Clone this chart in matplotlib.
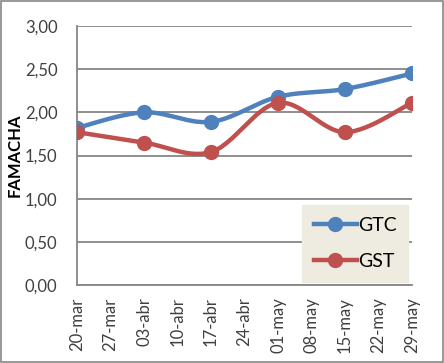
import numpy as np
import matplotlib
matplotlib.use("Agg")
import matplotlib.pyplot as plt

plt.rcParams['font.family'] = ['Lato', 'DejaVu Sans']

# days since 20-mar
tick_days = [0, 7, 14, 21, 28, 35, 42, 49, 56, 63, 70]
tick_labels = ["20-mar", "27-mar", "03-abr", "10-abr", "17-abr", "24-abr",
               "01-may", "08-may", "15-may", "22-may", "29-may"]
sample_days = [0, 14, 28, 42, 56, 70]
gtc = [1.82, 2.00, 1.89, 2.18, 2.27, 2.45]
gst = [1.77, 1.65, 1.54, 2.11, 1.77, 2.11]

BLUE = "#4F81BD"
RED = "#C0504D"
GRID = "#868686"


def smooth(xs, ys, n=30):
    # Excel-like smoothed line: cubic bezier with catmull-rom control points
    xs = np.asarray(xs, float)
    ys = np.asarray(ys, float)
    px = np.concatenate([[xs[0]], xs, [xs[-1]]])
    py = np.concatenate([[ys[0]], ys, [ys[-1]]])
    out_x, out_y = [], []
    t = np.linspace(0, 1, n)
    for i in range(1, len(px) - 2):
        p0 = np.array([px[i], py[i]])
        p3 = np.array([px[i + 1], py[i + 1]])
        p1 = p0 + (np.array([px[i + 1], py[i + 1]]) - np.array([px[i - 1], py[i - 1]])) / 6
        p2 = p3 - (np.array([px[i + 2], py[i + 2]]) - np.array([px[i], py[i]])) / 6
        b = ((1 - t) ** 3)[:, None] * p0 + (3 * (1 - t) ** 2 * t)[:, None] * p1 \
            + (3 * (1 - t) * t ** 2)[:, None] * p2 + (t ** 3)[:, None] * p3
        out_x.extend(b[:, 0])
        out_y.extend(b[:, 1])
    return out_x, out_y


fig = plt.figure(figsize=(4.44, 3.63), dpi=100)
ax = fig.add_axes([77 / 444, 1 - 285 / 363, 335 / 444, 259 / 363])

for vals, col, name in [(gtc, BLUE, "GTC"), (gst, RED, "GST")]:
    sx, sy = smooth(sample_days, vals)
    ax.plot(sx, sy, color=col, lw=3.2, solid_capstyle="round", zorder=3)
    ax.plot(sample_days, vals, "o", color=col, ms=10, zorder=4)
    ax.plot([], [], color=col, lw=3.2, marker="o", ms=10, label=name)

ax.set_xlim(0, 70)
ax.set_ylim(0, 3)
ax.set_yticks(np.arange(0, 3.01, 0.5))
ax.set_yticklabels([f"{v:.2f}".replace(".", ",") for v in np.arange(0, 3.01, 0.5)])
ax.set_xticks(tick_days)
ax.set_xticklabels(tick_labels, rotation=90)
ax.yaxis.grid(True, color=GRID, lw=1.3)
ax.set_axisbelow(True)
for s in ["top", "right"]:
    ax.spines[s].set_visible(False)
for s in ["left", "bottom"]:
    ax.spines[s].set_color(GRID)
    ax.spines[s].set_linewidth(1.3)
ax.tick_params(axis="both", length=0, labelsize=12, colors="#404040")
ax.tick_params(axis="y", pad=14)
ax.tick_params(axis="x", pad=9)
ax.set_ylabel("FAMACHA", fontsize=12, fontweight="bold")
ax.yaxis.set_label_coords(-54 / 335, 0.5)

leg = ax.legend(loc="lower right", bbox_to_anchor=(0.988, 0.012), borderaxespad=0,
                frameon=True, fancybox=False, facecolor="#EEECE1", edgecolor="#EEECE1",
                fontsize=14, handlelength=2.2, labelspacing=1.0,
                borderpad=0.6, handletextpad=0.05, framealpha=1)

fig.patches.append(plt.Rectangle((0.002, 0.003), 0.995, 0.994, transform=fig.transFigure,
                                 fill=False, edgecolor=GRID, lw=1.2))
fig.savefig("out.png", dpi=100)
